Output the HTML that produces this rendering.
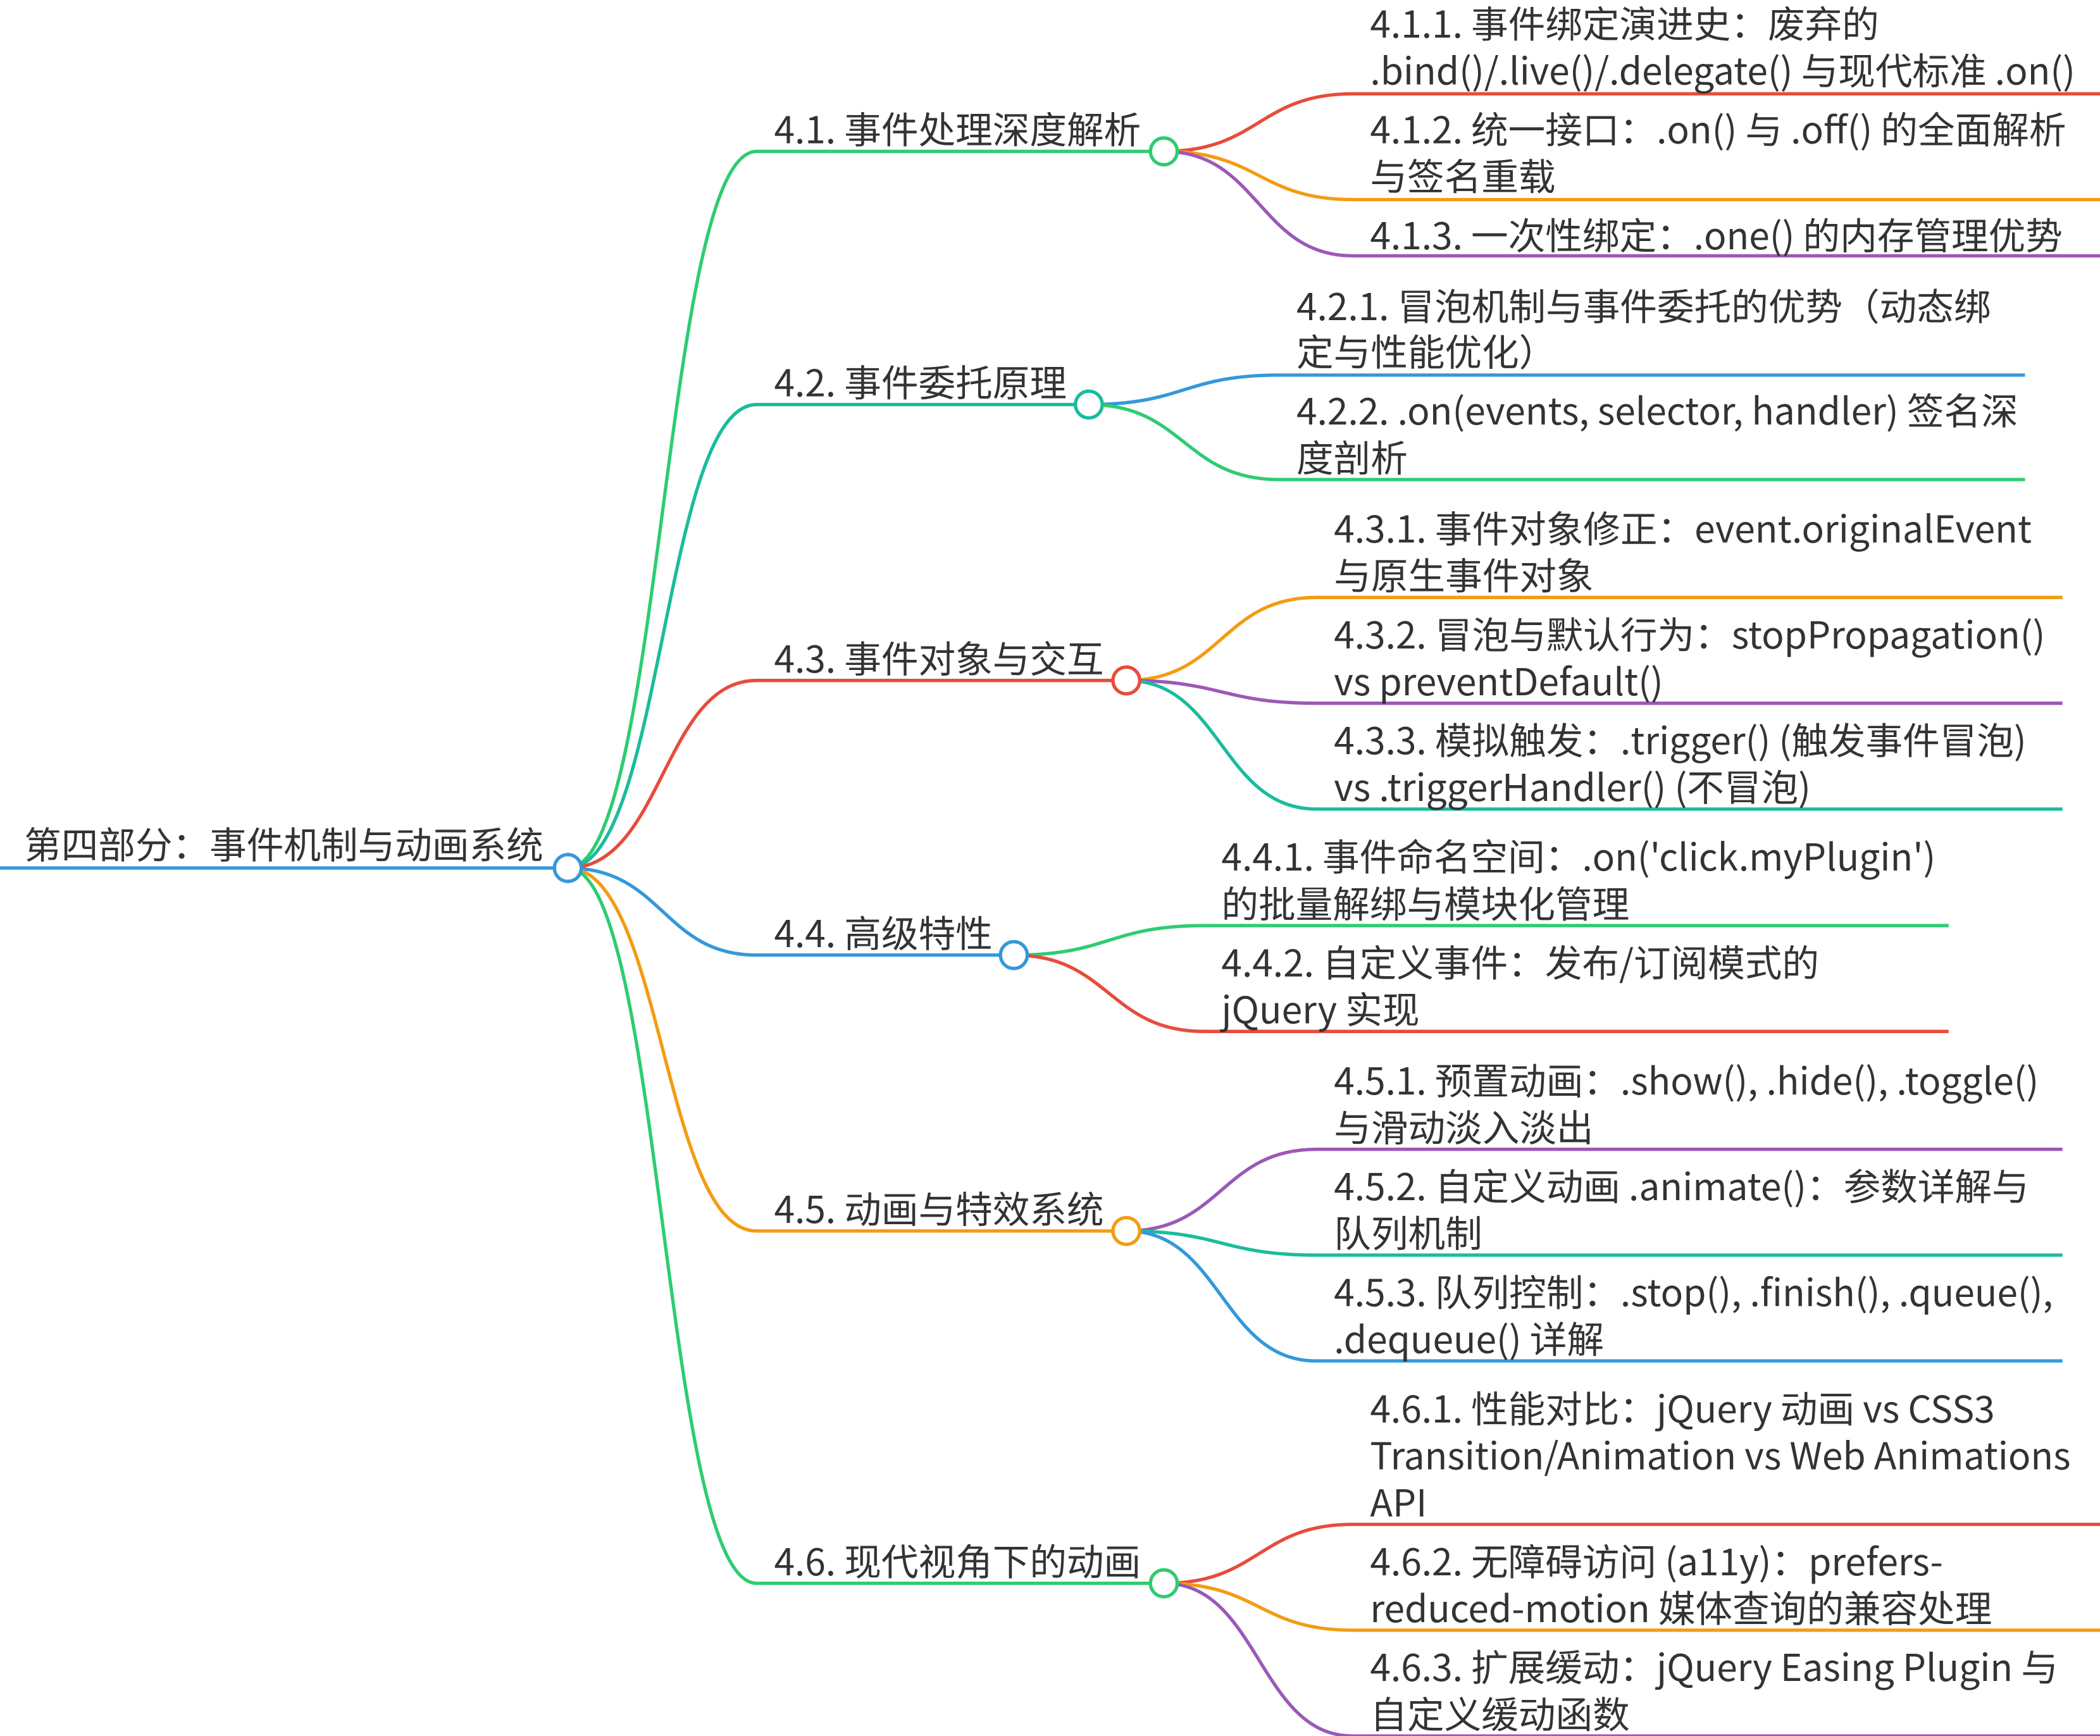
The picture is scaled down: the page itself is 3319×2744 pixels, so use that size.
<!DOCTYPE html>
<html><head><meta charset="utf-8"><style>
html,body{margin:0;padding:0;background:#fff;}
svg{display:block;}
text{font-family:"Noto Sans CJK SC","Liberation Sans",sans-serif;font-size:27.7px;fill:#333;}
</style></head><body>
<svg width="3319" height="2744" viewBox="0 0 1568 1296" preserveAspectRatio="none" xmlns="http://www.w3.org/2000/svg">
<g fill="none" stroke-width="2.5">
<path d="M0 648 H424" stroke="#3498db"/>
<path d="M424 648 C495 648 495 113 565 113 H869" stroke="#2ecc71"/>
<path d="M424 648 C495 648 495 302 565 302 H813" stroke="#1abc9c"/>
<path d="M424 648 C495 648 495 508 565 508 H841" stroke="#e74c3c"/>
<path d="M424 648 C495 648 495 713 565 713 H757" stroke="#3498db"/>
<path d="M424 648 C495 648 495 919 565 919 H841" stroke="#f39c12"/>
<path d="M424 648 C495 648 495 1182 565 1182 H869" stroke="#2ecc71"/>
<path d="M869 113 C940 113 940 70 1010 70 H1568" stroke="#e74c3c"/>
<path d="M869 113 C940 113 940 149 1010 149 H1568" stroke="#f39c12"/>
<path d="M869 113 C940 113 940 191 1010 191 H1568" stroke="#9b59b6"/>
<path d="M813 302 C884 302 884 280 955 280 H1512" stroke="#3498db"/>
<path d="M813 302 C884 302 884 358 955 358 H1512" stroke="#2ecc71"/>
<path d="M841 508 C912 508 912 446 983 446 H1540" stroke="#f39c12"/>
<path d="M841 508 C912 508 912 525 983 525 H1540" stroke="#9b59b6"/>
<path d="M841 508 C912 508 912 604 983 604 H1540" stroke="#1abc9c"/>
<path d="M757 713 C828 713 828 691 899 691 H1455" stroke="#2ecc71"/>
<path d="M757 713 C828 713 828 770 899 770 H1455" stroke="#e74c3c"/>
<path d="M841 919 C912 919 912 858 983 858 H1540" stroke="#9b59b6"/>
<path d="M841 919 C912 919 912 937 983 937 H1540" stroke="#1abc9c"/>
<path d="M841 919 C912 919 912 1016 983 1016 H1540" stroke="#3498db"/>
<path d="M869 1182 C940 1182 940 1138 1010 1138 H1568" stroke="#e74c3c"/>
<path d="M869 1182 C940 1182 940 1217 1010 1217 H1568" stroke="#f39c12"/>
<path d="M869 1182 C940 1182 940 1296 1010 1296 H1568" stroke="#9b59b6"/>
</g>
<g fill="#fff" stroke-width="2.5">
<circle cx="424" cy="648" r="10" stroke="#3498db"/>
<circle cx="869" cy="113" r="10" stroke="#2ecc71"/>
<circle cx="813" cy="302" r="10" stroke="#1abc9c"/>
<circle cx="841" cy="508" r="10" stroke="#e74c3c"/>
<circle cx="757" cy="713" r="10" stroke="#3498db"/>
<circle cx="841" cy="919" r="10" stroke="#f39c12"/>
<circle cx="869" cy="1182" r="10" stroke="#2ecc71"/>
</g>
<text x="18" y="641">第四部分：事件机制与动画系统</text>
<text x="578" y="107">4.1. 事件处理深度解析</text>
<text x="578" y="296">4.2. 事件委托原理</text>
<text x="578" y="502">4.3. 事件对象与交互</text>
<text x="578" y="707">4.4. 高级特性</text>
<text x="578" y="913">4.5. 动画与特效系统</text>
<text x="578" y="1176">4.6. 现代视角下的动画</text>

<text x="1023" y="28">4.1.1. 事件绑定演进史：废弃的</text>
<text x="1023" y="63">.bind()/.live()/.delegate() 与现代标准 .on()</text>
<text x="1023" y="107">4.1.2. 统一接口：.on() 与 .off() 的全面解析</text>
<text x="1023" y="142">与签名重载</text>
<text x="1023" y="186">4.1.3. 一次性绑定：.one() 的内存管理优势</text>

<text x="968" y="239">4.2.1. 冒泡机制与事件委托的优势（动态绑</text>
<text x="968" y="273">定与性能优化）</text>
<text x="968" y="317">4.2.2. .on(events, selector, handler) 签名深</text>
<text x="968" y="352">度剖析</text>

<text x="996" y="405">4.3.1. 事件对象修正：event.originalEvent</text>
<text x="996" y="440">与原生事件对象</text>
<text x="996" y="484">4.3.2. 冒泡与默认行为：stopPropagation()</text>
<text x="996" y="519">vs preventDefault()</text>
<text x="996" y="563">4.3.3. 模拟触发：.trigger() (触发事件冒泡)</text>
<text x="996" y="598">vs .triggerHandler() (不冒泡)</text>

<text x="912" y="650">4.4.1. 事件命名空间：.on('click.myPlugin')</text>
<text x="912" y="685">的批量解绑与模块化管理</text>
<text x="912" y="729">4.4.2. 自定义事件：发布/订阅模式的</text>
<text x="912" y="764">jQuery 实现</text>

<text x="996" y="817">4.5.1. 预置动画：.show(), .hide(), .toggle()</text>
<text x="996" y="852">与滑动淡入淡出</text>
<text x="996" y="896">4.5.2. 自定义动画 .animate()：参数详解与</text>
<text x="996" y="931">队列机制</text>
<text x="996" y="975">4.5.3. 队列控制：.stop(), .finish(), .queue(),</text>
<text x="996" y="1010">.dequeue() 详解</text>

<text x="1023" y="1062">4.6.1. 性能对比：jQuery 动画 vs CSS3</text>
<text x="1023" y="1097">Transition/Animation vs Web Animations</text>
<text x="1023" y="1132">API</text>
<text x="1023" y="1176">4.6.2. 无障碍访问 (a11y)：prefers-</text>
<text x="1023" y="1211">reduced-motion 媒体查询的兼容处理</text>
<text x="1023" y="1255">4.6.3. 扩展缓动：jQuery Easing Plugin 与</text>
<text x="1023" y="1290">自定义缓动函数</text>
</svg>
</body></html>
